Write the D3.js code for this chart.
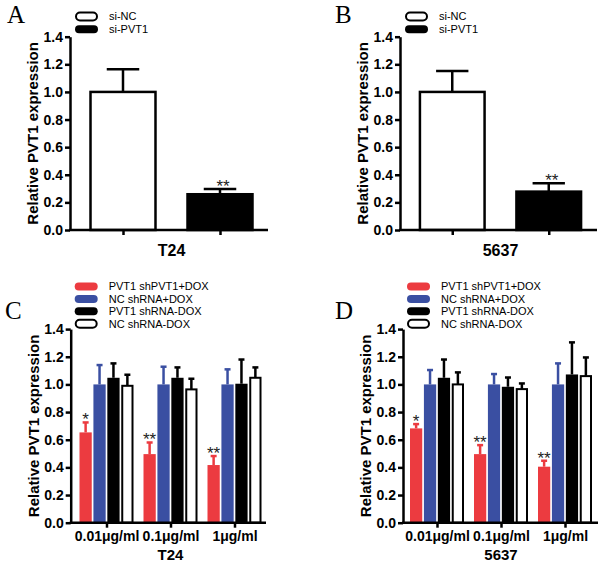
<!DOCTYPE html>
<html><head><meta charset="utf-8">
<script src="https://cdn.jsdelivr.net/npm/d3@7"></script>
<style>
body{margin:0;background:#fff;}
svg{display:block;font-family:Arial,"Liberation Sans",Helvetica,sans-serif;}
</style></head>
<body><svg id="chart" width="600" height="569"></svg>
<script>
// ---------- DATA ----------
const simpleCategories = ["si-NC", "si-PVT1"];
const aValues = [1.0, 0.259];
const aErrors = [0.165, 0.038];
const aSig = ["", "**"];
const bValues = [1.0, 0.278];
const bErrors = [0.152, 0.060];
const bSig = ["", "**"];

const doses = ["0.01μg/ml", "0.1μg/ml", "1μg/ml"];
const seriesNames = ["PVT1 shPVT1+DOX", "NC shRNA+DOX", "PVT1 shRNA-DOX", "NC shRNA-DOX"];
const seriesColors = ["#ec3b40", "#3a4fa2", "#000000", "#ffffff"];

const cRed = [0.653, 0.496, 0.417],   cRedErr = [0.072, 0.084, 0.065];
const cBlue = [1.0, 1.0, 1.0],        cBlueErr = [0.140, 0.128, 0.109];
const cBlack = [1.048, 1.048, 1.005], cBlackErr = [0.104, 0.075, 0.175];
const cWhite = [0.990, 0.964, 1.048], cWhiteErr = [0.080, 0.077, 0.075];
const cSig = ["*", "**", "**"];

const dRed = [0.682, 0.496, 0.405],   dRedErr = [0.031, 0.065, 0.043];
const dBlue = [1.0, 1.0, 1.0],        dBlueErr = [0.104, 0.075, 0.152];
const dBlack = [1.048, 0.983, 1.072], dBlackErr = [0.132, 0.067, 0.232];
const dWhite = [1.000, 0.966, 1.060], dWhiteErr = [0.087, 0.041, 0.135];
const dSig = ["*", "**", "**"];

const yTicks = [0, 0.2, 0.4, 0.6, 0.8, 1.0, 1.2, 1.4];
const yTitle = "Relative PVT1 expression";

// ---------- HELPERS ----------
const svg = d3.select("#chart");
const SANS = "Arial, 'Liberation Sans', sans-serif";

function yAxis(g, y, axisX) {
  const ax = g.append("g").attr("transform", `translate(${axisX},0)`)
    .call(d3.axisLeft(y).tickValues(yTicks).tickFormat(d3.format(".1f")).tickSize(5).tickSizeOuter(0).tickPadding(2));
  ax.select(".domain").attr("stroke-width", 2.5);
  ax.selectAll(".tick line").attr("stroke-width", 2.5);
  ax.selectAll(".tick text").attr("font-size", 14).attr("font-weight", "bold").attr("fill", "#000")
    .style("font-family", SANS);
  const mid = (y.range()[0] + y.range()[1]) / 2;
  g.append("text").attr("transform", `translate(${axisX - 37},${mid}) rotate(-90)`)
    .attr("text-anchor", "middle").attr("dy", "0.35em")
    .attr("font-size", 15).attr("font-weight", "bold").text(yTitle);
}

function xAxis(g, x, y0, x0, x1, labels) {
  g.append("line").attr("x1", x0 - 1).attr("x2", x1).attr("y1", y0).attr("y2", y0)
    .attr("stroke", "#000").attr("stroke-width", 2.5);
  const ax = g.append("g").attr("transform", `translate(0,${y0})`)
    .call(d3.axisBottom(x).tickSize(5).tickSizeOuter(0).tickPadding(3));
  ax.select(".domain").remove();
  ax.selectAll(".tick line").attr("stroke-width", 2.5);
  ax.selectAll(".tick text").attr("font-size", 14).attr("font-weight", "bold").attr("fill", "#000")
    .style("font-family", SANS)
    .style("display", labels ? null : "none");
}

function errBar(g, cx, yTop, yVal, capW, color, lw) {
  g.append("line").attr("x1", cx).attr("x2", cx).attr("y1", yVal).attr("y2", yTop)
    .attr("stroke", color).attr("stroke-width", lw);
  g.append("line").attr("x1", cx - capW / 2).attr("x2", cx + capW / 2).attr("y1", yTop).attr("y2", yTop)
    .attr("stroke", color).attr("stroke-width", lw);
}

function star(g, cx, yTop, txt) {
  g.append("text").attr("x", cx).attr("y", yTop + 3).attr("text-anchor", "middle")
    .attr("font-size", 17).attr("fill", "#222").text(txt);
}

function letter(txt, x, yb) {
  svg.append("text").attr("x", x).attr("y", yb).attr("font-size", 25)
    .style("font-family", "'Liberation Serif','Times New Roman',serif").text(txt);
}

function legend(g, x, yStart, dy, names, fills) {
  names.forEach((n, i) => {
    const cy = yStart + i * dy;
    const white = fills[i] === "#ffffff";
    g.append("rect").attr("x", x + (white ? 1 : 0)).attr("y", cy - 4)
      .attr("width", white ? 21 : 23).attr("height", 8).attr("rx", 4)
      .attr("fill", fills[i]).attr("stroke", white ? "#000" : "none").attr("stroke-width", 2);
    g.append("text").attr("x", x + 34).attr("y", cy).attr("dy", "0.35em")
      .attr("font-size", 11).text(n);
  });
}

// ---------- SIMPLE PANELS (A, B) ----------
function simplePanel(opts) {
  const g = svg.append("g");
  const y = d3.scaleLinear().domain([0, 1.4]).range([230, 36.7]);
  const x = d3.scalePoint().domain(opts.categories).range(opts.xRange).padding(0.5);
  const bw = x.step() * 0.67;
  const fills = ["#ffffff", "#000000"];
  opts.values.forEach((v, i) => {
    const cx = x(opts.categories[i]);
    const top = y(v + opts.errors[i]);
    errBar(g, cx, top, y(v), bw / 2, "#000", 2.5);
    g.append("rect").attr("x", cx - bw / 2).attr("y", y(v)).attr("width", bw).attr("height", y(0) - y(v))
      .attr("fill", fills[i]).attr("stroke", "#000").attr("stroke-width", 2.5);
    if (opts.sig[i]) star(g, cx + 3, top, opts.sig[i]);
  });
  yAxis(g, y, opts.axisX);
  xAxis(g, x, 230, opts.axisX, opts.axisEnd, false);
  g.append("text").attr("x", (x.range()[0] + x.range()[1]) / 2).attr("y", 256).attr("text-anchor", "middle")
    .attr("font-size", 16).attr("font-weight", "bold").text(opts.title);
  legend(g, opts.axisX + 5, 16.5, 12.8, opts.categories, fills);
  letter(opts.letter, opts.letterX, 23);
}

simplePanel({categories: simpleCategories, values: aValues, errors: aErrors, sig: aSig,
  xRange: [74.5, 268.5], axisX: 70, axisEnd: 268, title: "T24", letter: "A", letterX: 7});
simplePanel({categories: simpleCategories, values: bValues, errors: bErrors, sig: bSig,
  xRange: [404, 597], axisX: 400, axisEnd: 597, title: "5637", letter: "B", letterX: 335});

// ---------- GROUPED PANELS (C, D) ----------
function groupedPanel(opts) {
  const g = svg.append("g");
  const y = d3.scaleLinear().domain([0, 1.4]).range([522.7, 329.1]);
  const x = d3.scalePoint().domain(doses).range(opts.xRange).padding(0.5);
  const inner = d3.scaleBand().domain(seriesNames).range([-27, 27]).paddingInner(0.12);
  const bw = inner.bandwidth();
  doses.forEach((dose, di) => {
    seriesNames.forEach((s, si) => {
      const v = opts.values[si][di], e = opts.errors[si][di];
      const bx = x(dose) + inner(s);
      const cx = bx + bw / 2;
      const col = seriesColors[si];
      const errCol = col === "#ffffff" ? "#000" : col;
      errBar(g, cx, y(v + e), y(v), 6, errCol, 2.5);
      const white = col === "#ffffff";
      g.append("rect").attr("x", white ? bx + 1 : bx).attr("y", y(v)).attr("width", white ? bw - 2 : bw)
        .attr("height", y(0) - y(v)).attr("fill", col)
        .attr("stroke", white ? "#000" : "none").attr("stroke-width", 2);
      if (si === 0) star(g, cx, y(v + e), opts.sig[di]);
    });
  });
  yAxis(g, y, opts.axisX);
  xAxis(g, x, 522.7, opts.axisX, opts.axisEnd, true);
  g.append("text").attr("x", x(doses[1])).attr("y", 560).attr("text-anchor", "middle")
    .attr("font-size", 15).attr("font-weight", "bold").text(opts.title);
  legend(g, opts.axisX + 4, 286.5, 12.4, seriesNames, seriesColors);
  letter(opts.letter, opts.letterX, 319);
}

groupedPanel({values: [cRed, cBlue, cBlack, cWhite], errors: [cRedErr, cBlueErr, cBlackErr, cWhiteErr],
  sig: cSig, xRange: [74.5, 266.5], axisX: 70.7, axisEnd: 266, title: "T24", letter: "C", letterX: 5});
groupedPanel({values: [dRed, dBlue, dBlack, dWhite], errors: [dRedErr, dBlueErr, dBlackErr, dWhiteErr],
  sig: dSig, xRange: [405, 597], axisX: 403, axisEnd: 598, title: "5637", letter: "D", letterX: 335});
</script></body></html>
